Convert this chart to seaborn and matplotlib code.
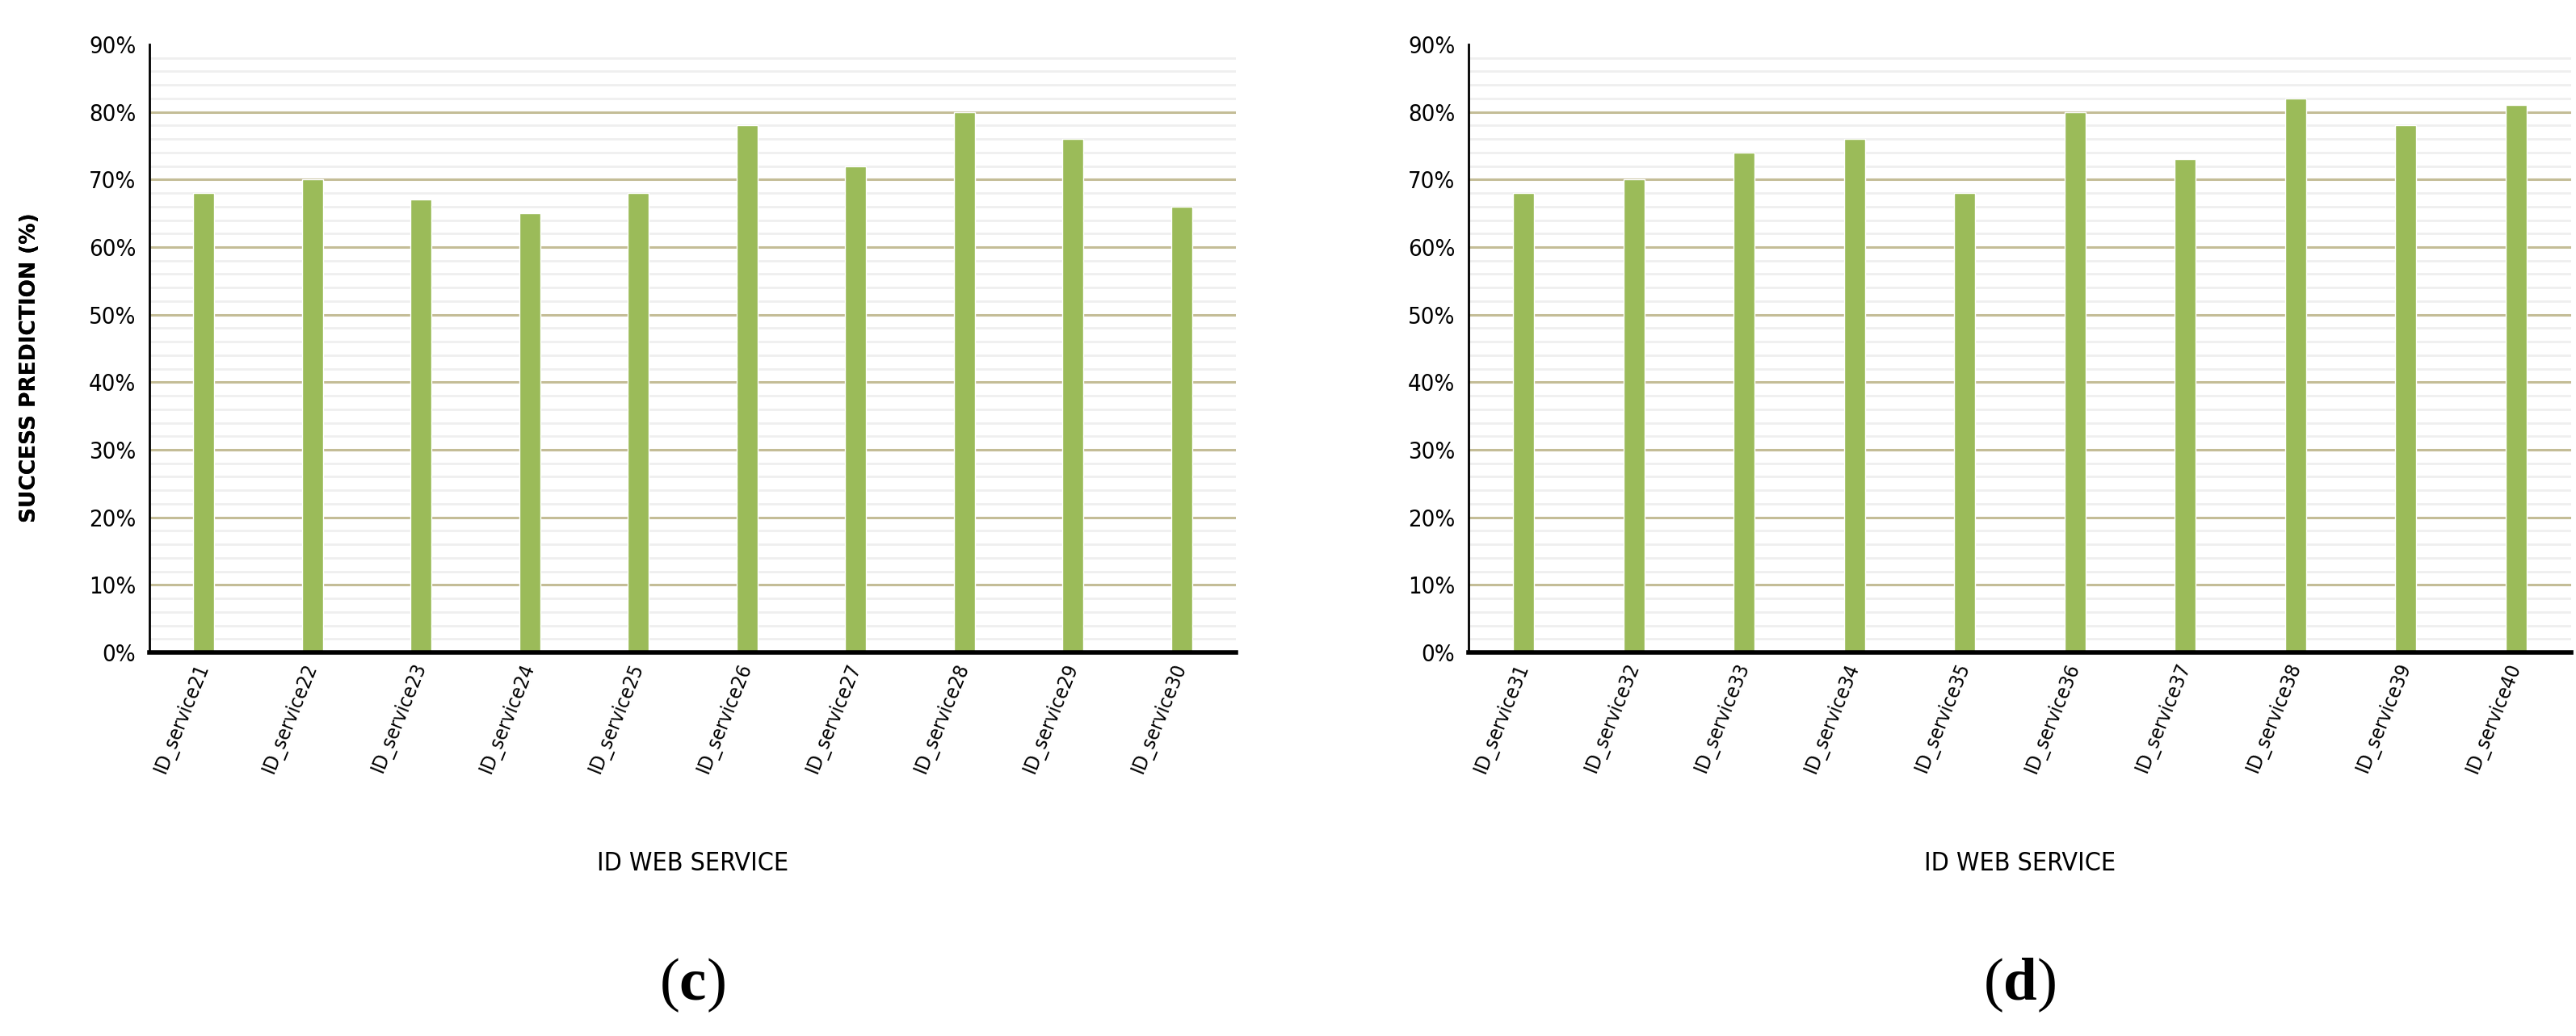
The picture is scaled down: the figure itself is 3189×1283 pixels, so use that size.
import numpy as np
import pandas as pd
import matplotlib
matplotlib.use('Agg')
import matplotlib.pyplot as plt
from matplotlib.ticker import MultipleLocator, PercentFormatter
import seaborn as sns

# --- data ---
services_c = ['ID_service21', 'ID_service22', 'ID_service23', 'ID_service24', 'ID_service25',
              'ID_service26', 'ID_service27', 'ID_service28', 'ID_service29', 'ID_service30']
success_c = [0.68, 0.70, 0.67, 0.65, 0.68, 0.78, 0.72, 0.80, 0.76, 0.66]

services_d = ['ID_service31', 'ID_service32', 'ID_service33', 'ID_service34', 'ID_service35',
              'ID_service36', 'ID_service37', 'ID_service38', 'ID_service39', 'ID_service40']
success_d = [0.68, 0.70, 0.74, 0.76, 0.68, 0.80, 0.73, 0.82, 0.78, 0.81]

panel_labels = ['c', 'd']

BAR_COLOR = '#9BBB59'
MAJOR_GRID = '#C4BD97'
MINOR_GRID = '#EFEFEF'

sns.set_style('white')
plt.rcParams['font.family'] = ['DejaVu Sans']
plt.rcParams['font.stretch'] = 'condensed'
plt.rcParams['text.color'] = 'black'
plt.rcParams['xtick.color'] = 'black'
plt.rcParams['ytick.color'] = 'black'
plt.rcParams['axes.labelcolor'] = 'black'
plt.rcParams['mathtext.fontset'] = 'custom'
plt.rcParams['mathtext.bf'] = 'Liberation Serif:bold'
plt.rcParams['mathtext.rm'] = 'Liberation Serif'

W, H = 3189, 1283
fig = plt.figure(figsize=(W / 100, H / 100), dpi=100)


def draw_panel(left_px, right_px, services, values, letter):
    top_px, bottom_px = 55, 808
    ax = fig.add_axes([left_px / W, 1 - bottom_px / H,
                       (right_px - left_px) / W, (bottom_px - top_px) / H])
    df = pd.DataFrame({'service': services, 'success': values})
    sns.barplot(data=df, x='service', y='success', color=BAR_COLOR, saturation=1,
                width=0.19, ax=ax, zorder=3)

    ax.set_ylim(0, 0.9)
    ax.set_xlim(-0.5, len(services) - 0.5)
    ax.yaxis.set_major_locator(MultipleLocator(0.1))
    ax.yaxis.set_minor_locator(MultipleLocator(0.02))
    ax.yaxis.set_major_formatter(PercentFormatter(1.0, decimals=0))
    ax.grid(which='minor', axis='y', color=MINOR_GRID, lw=2, zorder=0)
    ax.grid(which='major', visible=False)
    # major lines at 10..80 %, none along the top edge
    for yv in ax.get_yticks():
        if 0 < yv < 0.89:
            ax.axhline(yv, color=MAJOR_GRID, lw=2.2, zorder=1)

    for s in ['top', 'right']:
        ax.spines[s].set_visible(False)
    ax.spines['left'].set_linewidth(2)
    ax.spines['left'].set_color('black')
    ax.spines['bottom'].set_linewidth(4)
    ax.spines['bottom'].set_color('black')
    ax.spines['bottom'].set_zorder(5)

    ax.tick_params(axis='y', which='both', length=0, pad=12, labelsize=21)
    ax.tick_params(axis='x', length=0, pad=10, labelsize=18)
    for lab in ax.get_xticklabels():
        lab.set_rotation(68)
        lab.set_rotation_mode('anchor')
        lab.set_ha('right')
        lab.set_va('center')

    ax.set_ylabel('SUCCESS PREDICTION (%)', fontsize=19, fontweight='bold',
                  fontstretch='normal', labelpad=0)
    ax.yaxis.set_label_coords(-(left_px - 50) / (right_px - left_px),
                              (bottom_px - 455) / (bottom_px - top_px))
    ax.set_xlabel('ID WEB SERVICE', fontsize=23, labelpad=0)
    ax.xaxis.set_label_coords(0.5, -(1054 - bottom_px) / (bottom_px - top_px))

    cx = (left_px + right_px) / 2 / W
    fig.text(cx, 1 - 1220 / H, '(' + r'$\mathbf{' + letter + '}$' + ')',
             ha='center', va='center', fontsize=54, family='Liberation Serif',
             fontstretch='normal')
    return ax


draw_panel(185, 1530, services_c, success_c, panel_labels[0])
draw_panel(1818, 3183, services_d, success_d, panel_labels[1])

fig.savefig('out.png', dpi=100, facecolor='white')
